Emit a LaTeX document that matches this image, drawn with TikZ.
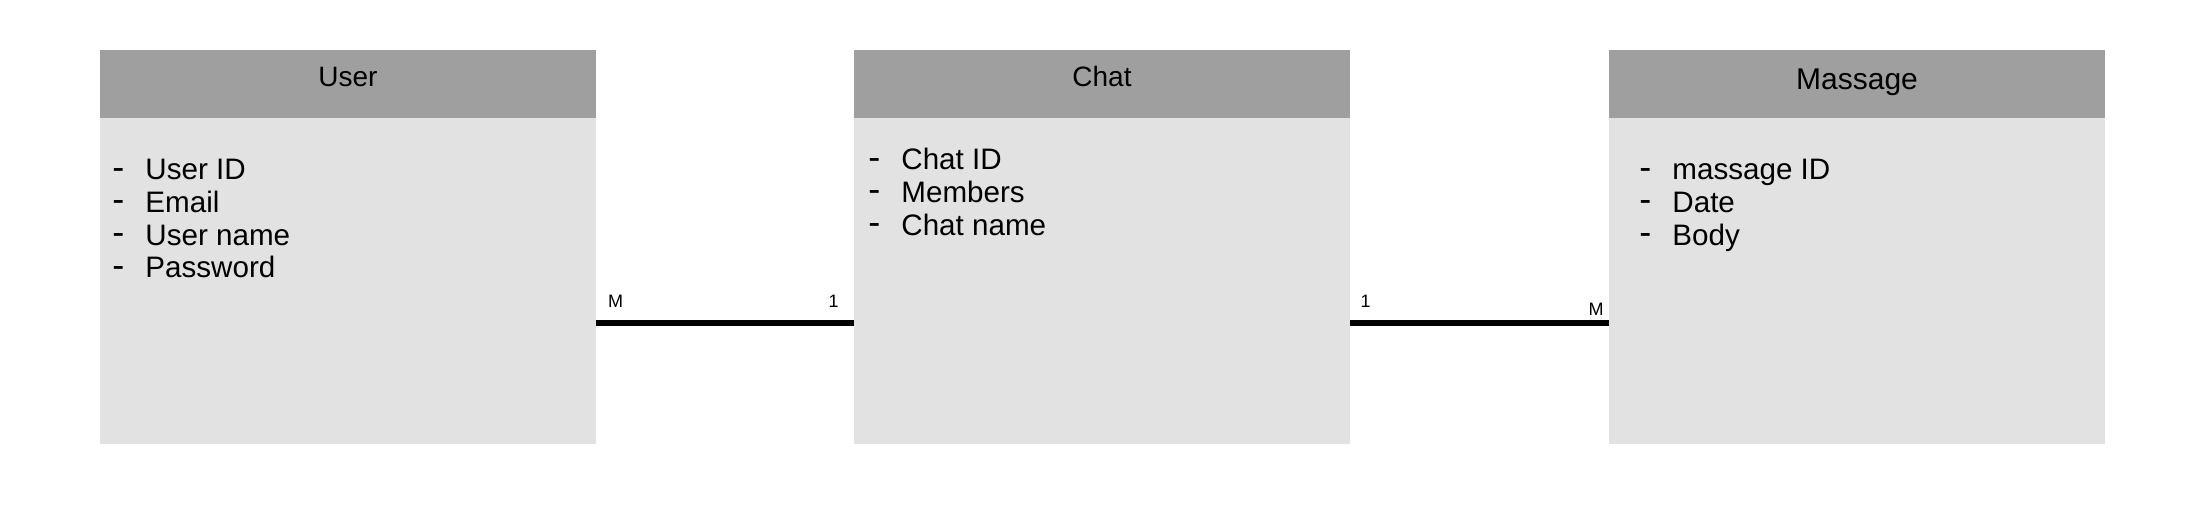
\documentclass[tikz,border=0pt]{standalone}
\usepackage{fontspec}
\setmainfont{Liberation Sans}
\usetikzlibrary{calc}
\definecolor{hdr}{RGB}{159,159,159}
\definecolor{bdy}{RGB}{226,226,226}
\newcommand\entdash{\raisebox{0.3pt}{\fontsize{18pt}{18pt}\selectfont -}}
\begin{document}
\begin{tikzpicture}[x=0.5pt,y=-0.5pt,
 entity/.style={rectangle,fill=bdy,draw=none,minimum width=248pt,minimum height=197pt,inner sep=0,outer sep=0,anchor=north west},
 header/.style={rectangle,fill=hdr,draw=none,minimum width=248pt,minimum height=34pt,inner sep=0,outer sep=0,anchor=north west},
 title/.style={font=\fontsize{14pt}{16pt}\selectfont,anchor=base,inner sep=0},
 attrs/.style={font=\fontsize{14.8pt}{16.3pt}\selectfont,anchor=base west,inner sep=0},
 conn/.style={line width=3pt},
 card/.style={font=\fontsize{9pt}{10pt}\selectfont,anchor=base,inner sep=0}]
\useasboundingbox[fill=white] (0,0) rectangle (2204,506);
% User
\node[entity] (user) at (100,50) {};
\node[header] (userh) at (100,50) {};
\node[title] (usert) at (348,87) {User};
\node[attrs] (usera) at (112,180) {\begin{tabular}[t]{@{}p{16.5pt}@{}l@{}}\entdash&User ID\\\entdash&Email\\\entdash&User name\\\entdash&Password\end{tabular}};
% Chat
\node[entity] (chat) at (854,50) {};
\node[header] (chath) at (854,50) {};
\node[title] (chatt) at (1102,87) {Chat};
\node[attrs] (chata) at (868,170) {\begin{tabular}[t]{@{}p{16.5pt}@{}l@{}}\entdash&Chat ID\\\entdash&Members\\\entdash&Chat name\end{tabular}};
% Massage
\node[entity] (msg) at (1609,50) {};
\node[header] (msgh) at (1609,50) {};
\node[title,font=\fontsize{15pt}{17pt}\selectfont] (msgt) at (1857,90) {Massage};
\node[attrs] (msga) at (1639,180) {\begin{tabular}[t]{@{}p{16.5pt}@{}l@{}}\entdash&massage ID\\\entdash&Date\\\entdash&Body\end{tabular}};
% connectors
\draw[conn] ($(user.north east)+(0,273)$) -- ($(chat.north west)+(0,273)$);
\draw[conn] ($(chat.north east)+(0,273)$) -- ($(msg.north west)+(0,273)$);
\node[card] (c1) at (615.5,308) {M};
\node[card] (c2) at (833.5,308) {1};
\node[card] (c3) at (1365.5,308) {1};
\node[card] (c4) at (1596,316) {M};
\end{tikzpicture}
\end{document}
